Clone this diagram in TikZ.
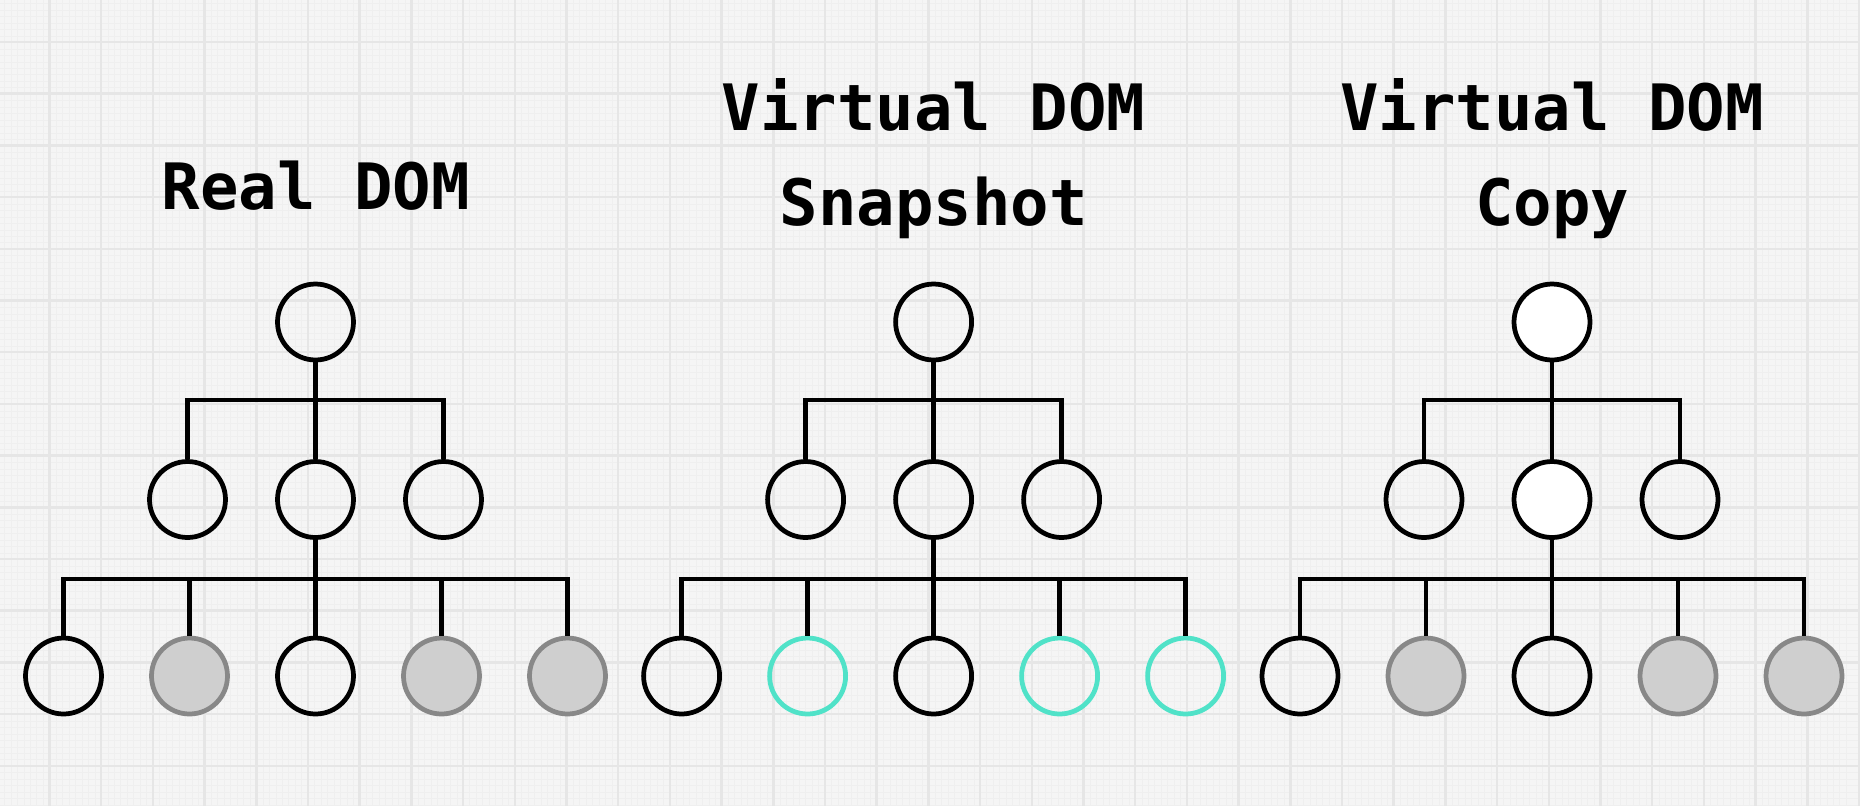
\documentclass[tikz,border=0pt]{standalone}
\usepackage{fontspec}
\setmonofont{DejaVu Sans Mono}
\usetikzlibrary{calc}
\definecolor{paper}{HTML}{F5F5F5}
\definecolor{gridline}{HTML}{E6E6E6}
\definecolor{finegrid}{HTML}{EFEFEF}
\definecolor{oldfill}{HTML}{CFCFCF}
\definecolor{oldedge}{HTML}{888888}
\definecolor{diffteal}{HTML}{50E2C8}
\tikzset{
	dom/.style={circle, draw=black, line width=0.095cm, minimum size=1.52cm, inner sep=0pt},
	stale/.style={dom, draw=oldedge, fill=oldfill},
	diffed/.style={dom, draw=diffteal},
	fresh/.style={dom, fill=white},
	link/.style={line width=0.09cm, black},
	title/.style={font=\ttfamily\bfseries\fontsize{36.4pt}{54pt}\selectfont, align=center, inner sep=0pt}
}

\begin{document}
\begin{tikzpicture}[x=0.02cm, y=-0.02cm]
				%%%%% PAPER %%%%%
				\useasboundingbox (0, 0) rectangle (1860, 806);
				\fill[paper] (0, 0) rectangle (1860, 806);
				\foreach \i in {0,...,286}
					\draw[finegrid, line width=0.15pt] ({-2.2+6.4625*\i}, 0) -- ++(0, 806);
				\foreach \j in {0,...,125}
					\draw[finegrid, line width=0.15pt] (0, {3.5+6.4625*\j}) -- ++(1860, 0);
				\foreach \i in {0,...,35}
					\draw[gridline, line width=0.05cm] ({49.5+51.7*\i}, 0) -- ++(0, 806);
				\foreach \j in {0,...,15}
					\draw[gridline, line width=0.05cm] (0, {42+51.7*\j}) -- ++(1860, 0);

				%%%%% REAL DOM %%%%%
				\node[title, anchor=base] (tA) at (316, 209) {Real DOM};
				\node[dom] (rA) at (315.5, 322) {};
				\node[dom] (mA1) at (187.5, 499.5) {};
				\node[dom] (mA2) at (315.5, 499.5) {};
				\node[dom] (mA3) at (443.5, 499.5) {};
				\node[dom] (lA1) at (63.5, 676) {};
				\node[stale] (lA2) at (189.5, 676) {};
				\node[dom] (lA3) at (315.5, 676) {};
				\node[stale] (lA4) at (441.5, 676) {};
				\node[stale] (lA5) at (567.5, 676) {};
				\coordinate (jA1) at (315.5, 400);
				\coordinate (jA2) at (315.5, 579);
				\draw[link] (rA.south) -- (jA1) -- (mA2.north);
				\draw[link] (mA1.north) |- (jA1) -- (mA3.north |- jA1) -- (mA3.north);
				\draw[link] (mA2.south) -- (jA2) -- (lA3.north);
				\draw[link] (lA1.north) |- (jA2) -- (lA5.north |- jA2) -- (lA5.north);
				\draw[link] (lA2.north) -- (lA2.north |- jA2);
				\draw[link] (lA4.north) -- (lA4.north |- jA2);

				%%%%% SNAPSHOT %%%%%
				\node[title, anchor=base] (tB) at (933.6, 225) {Virtual DOM\\Snapshot};
				\node[dom] (rB) at (933.6, 322) {};
				\node[dom] (mB1) at (805.6, 499.5) {};
				\node[dom] (mB2) at (933.6, 499.5) {};
				\node[dom] (mB3) at (1061.6, 499.5) {};
				\node[dom] (lB1) at (681.6, 676) {};
				\node[diffed] (lB2) at (807.6, 676) {};
				\node[dom] (lB3) at (933.6, 676) {};
				\node[diffed] (lB4) at (1059.6, 676) {};
				\node[diffed] (lB5) at (1185.6, 676) {};
				\coordinate (jB1) at (933.6, 400);
				\coordinate (jB2) at (933.6, 579);
				\draw[link] (rB.south) -- (jB1) -- (mB2.north);
				\draw[link] (mB1.north) |- (jB1) -- (mB3.north |- jB1) -- (mB3.north);
				\draw[link] (mB2.south) -- (jB2) -- (lB3.north);
				\draw[link] (lB1.north) |- (jB2) -- (lB5.north |- jB2) -- (lB5.north);
				\draw[link] (lB2.north) -- (lB2.north |- jB2);
				\draw[link] (lB4.north) -- (lB4.north |- jB2);

				%%%%% COPY %%%%%
				\node[title, anchor=base] (tC) at (1552, 225) {Virtual DOM\\Copy};
				\node[fresh] (rC) at (1552, 322) {};
				\node[dom] (mC1) at (1424, 499.5) {};
				\node[fresh] (mC2) at (1552, 499.5) {};
				\node[dom] (mC3) at (1680, 499.5) {};
				\node[dom] (lC1) at (1300, 676) {};
				\node[stale] (lC2) at (1426, 676) {};
				\node[dom] (lC3) at (1552, 676) {};
				\node[stale] (lC4) at (1678, 676) {};
				\node[stale] (lC5) at (1804, 676) {};
				\coordinate (jC1) at (1552, 400);
				\coordinate (jC2) at (1552, 579);
				\draw[link] (rC.south) -- (jC1) -- (mC2.north);
				\draw[link] (mC1.north) |- (jC1) -- (mC3.north |- jC1) -- (mC3.north);
				\draw[link] (mC2.south) -- (jC2) -- (lC3.north);
				\draw[link] (lC1.north) |- (jC2) -- (lC5.north |- jC2) -- (lC5.north);
				\draw[link] (lC2.north) -- (lC2.north |- jC2);
				\draw[link] (lC4.north) -- (lC4.north |- jC2);
\end{tikzpicture}
\end{document}
